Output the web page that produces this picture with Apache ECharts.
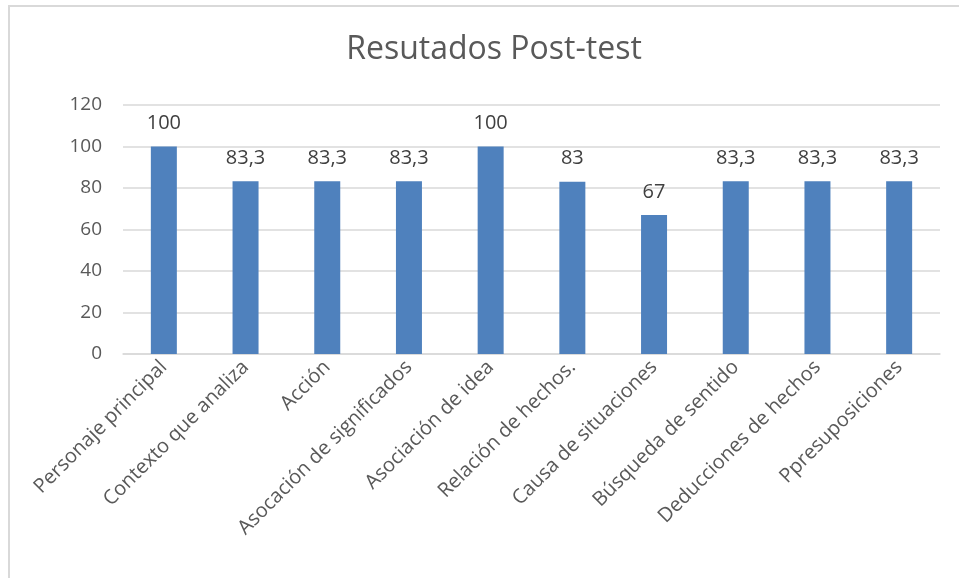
<!DOCTYPE html>
<html>
<head>
<meta charset="utf-8">
<script src="https://cdn.jsdelivr.net/npm/echarts@6/dist/echarts.min.js"></script>
<style>html,body{margin:0;padding:0;background:#fff;}#c{width:959px;height:578px;}</style>
</head>
<body>
<div id="c"></div>
<script>
var titleText = 'Resutados Post-test';
var categories = ['Personaje principal','Contexto que analiza','Acción','Asocación de significados','Asociación de idea','Relación de hechos.','Causa de situaciones','Búsqueda de sentido','Deducciones de hechos','Ppresuposiciones'];
var values = [100, 83.3, 83.3, 83.3, 100, 83, 67, 83.3, 83.3, 83.3];
var yTicks = [0, 20, 40, 60, 80, 100, 120];

var chart = echarts.init(document.getElementById('c'), null, {renderer: 'canvas'});
var font = '"Open Sans", "Noto Sans", sans-serif';
chart.setOption({
  animation: false,
  backgroundColor: '#ffffff',
  graphic: [{
    type: 'polyline',
    shape: {points: [[9, 600], [9, 6], [960, 6]]},
    style: {stroke: '#d9d9d9', lineWidth: 2, fill: null},
    silent: true
  }],
  title: {
    text: titleText,
    left: 489,
    textAlign: 'center',
    top: 29,
    textStyle: {fontFamily: font, fontSize: 32, fontWeight: 'normal', color: '#595959'}
  },
  grid: {left: 123, right: 19, top: 105, bottom: 224, containLabel: false},
  xAxis: {
    type: 'category',
    data: categories,
    axisLine: {lineStyle: {color: '#d9d9d9', width: 1.5}},
    axisTick: {show: false},
    axisLabel: {
      interval: 0,
      rotate: 45,
      margin: 10,
      fontFamily: font,
      fontSize: 20,
      color: '#595959'
    }
  },
  yAxis: {
    type: 'value',
    min: yTicks[0],
    max: yTicks[yTicks.length - 1],
    interval: 20,
    axisLine: {show: false},
    axisTick: {show: false},
    splitLine: {lineStyle: {color: '#d9d9d9', width: 1.5}},
    axisLabel: {margin: 21, fontFamily: font, fontSize: 19, color: '#595959'}
  },
  series: [{
    type: 'bar',
    data: values,
    barWidth: 26,
    itemStyle: {color: '#4f81bd'},
    label: {
      show: true,
      position: 'top',
      distance: 13,
      fontFamily: font,
      fontSize: 20,
      color: '#404040',
      formatter: function (p) { return String(p.value).replace('.', ','); }
    }
  }]
});
</script>
</body>
</html>
